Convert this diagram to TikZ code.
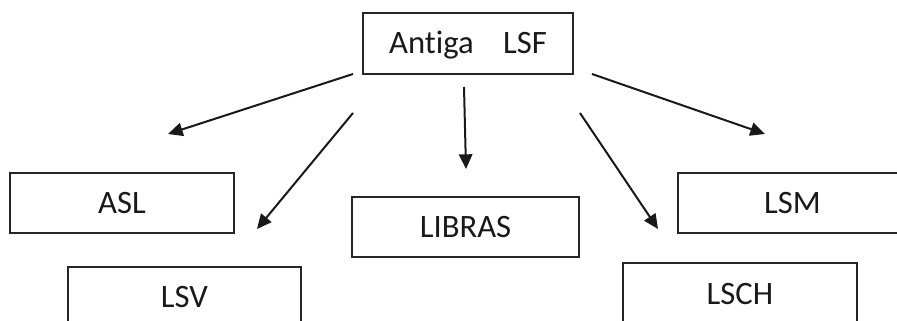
\documentclass[tikz,border=0pt]{standalone}
\usepackage{fontspec}
\setmainfont{Carlito}[Ligatures={NoCommon,NoRequired,NoContextual}]
\usetikzlibrary{arrows.meta}
\begin{document}
\begin{tikzpicture}[x=0.75pt,y=-0.75pt,
  langbox/.style={draw=black!85, line width=1.2pt, rectangle, inner sep=0pt,
    font=\fontsize{24.5}{28}\selectfont, text=black!90,
    text height=15.4pt, text depth=0pt},
  arr/.style={draw=black!90, line width=1.5pt,
    -{Triangle[length=11pt,width=10pt]}}]
\useasboundingbox (0,0) rectangle (897,321);
\clip (0,0) rectangle (897,321);
\node[langbox, minimum width=210*0.75pt, minimum height=61*0.75pt] (lsf) at (468,43.5) {Antiga\hspace{22pt}LSF};
\node[langbox, minimum width=224*0.75pt, minimum height=60*0.75pt] (asl) at (122,203) {ASL};
\node[langbox, minimum width=233*0.75pt, minimum height=60*0.75pt] (lsv) at (184.5,297) {LSV};
\node[langbox, minimum width=227*0.75pt, minimum height=60*0.75pt] (libras) at (465.5,227) {LIBRAS};
\node[langbox, minimum width=229*0.75pt, minimum height=60*0.75pt] (lsm) at (792.5,203) {LSM};
\node[langbox, minimum width=234*0.75pt, minimum height=62*0.75pt] (lsch) at (740,294) {LSCH};
\coordinate (s1) at (353,74);  \coordinate (e1) at (168,134);
\coordinate (s2) at (353,113); \coordinate (e2) at (257,229);
\coordinate (s3) at (464,87);  \coordinate (e3) at (466,169);
\coordinate (s4) at (580,113); \coordinate (e4) at (658,229);
\coordinate (s5) at (592,74);  \coordinate (e5) at (765,134);
\draw[arr] (s1) -- (e1);
\draw[arr] (s2) -- (e2);
\draw[arr] (s3) -- (e3);
\draw[arr] (s4) -- (e4);
\draw[arr] (s5) -- (e5);
\end{tikzpicture}
\end{document}
